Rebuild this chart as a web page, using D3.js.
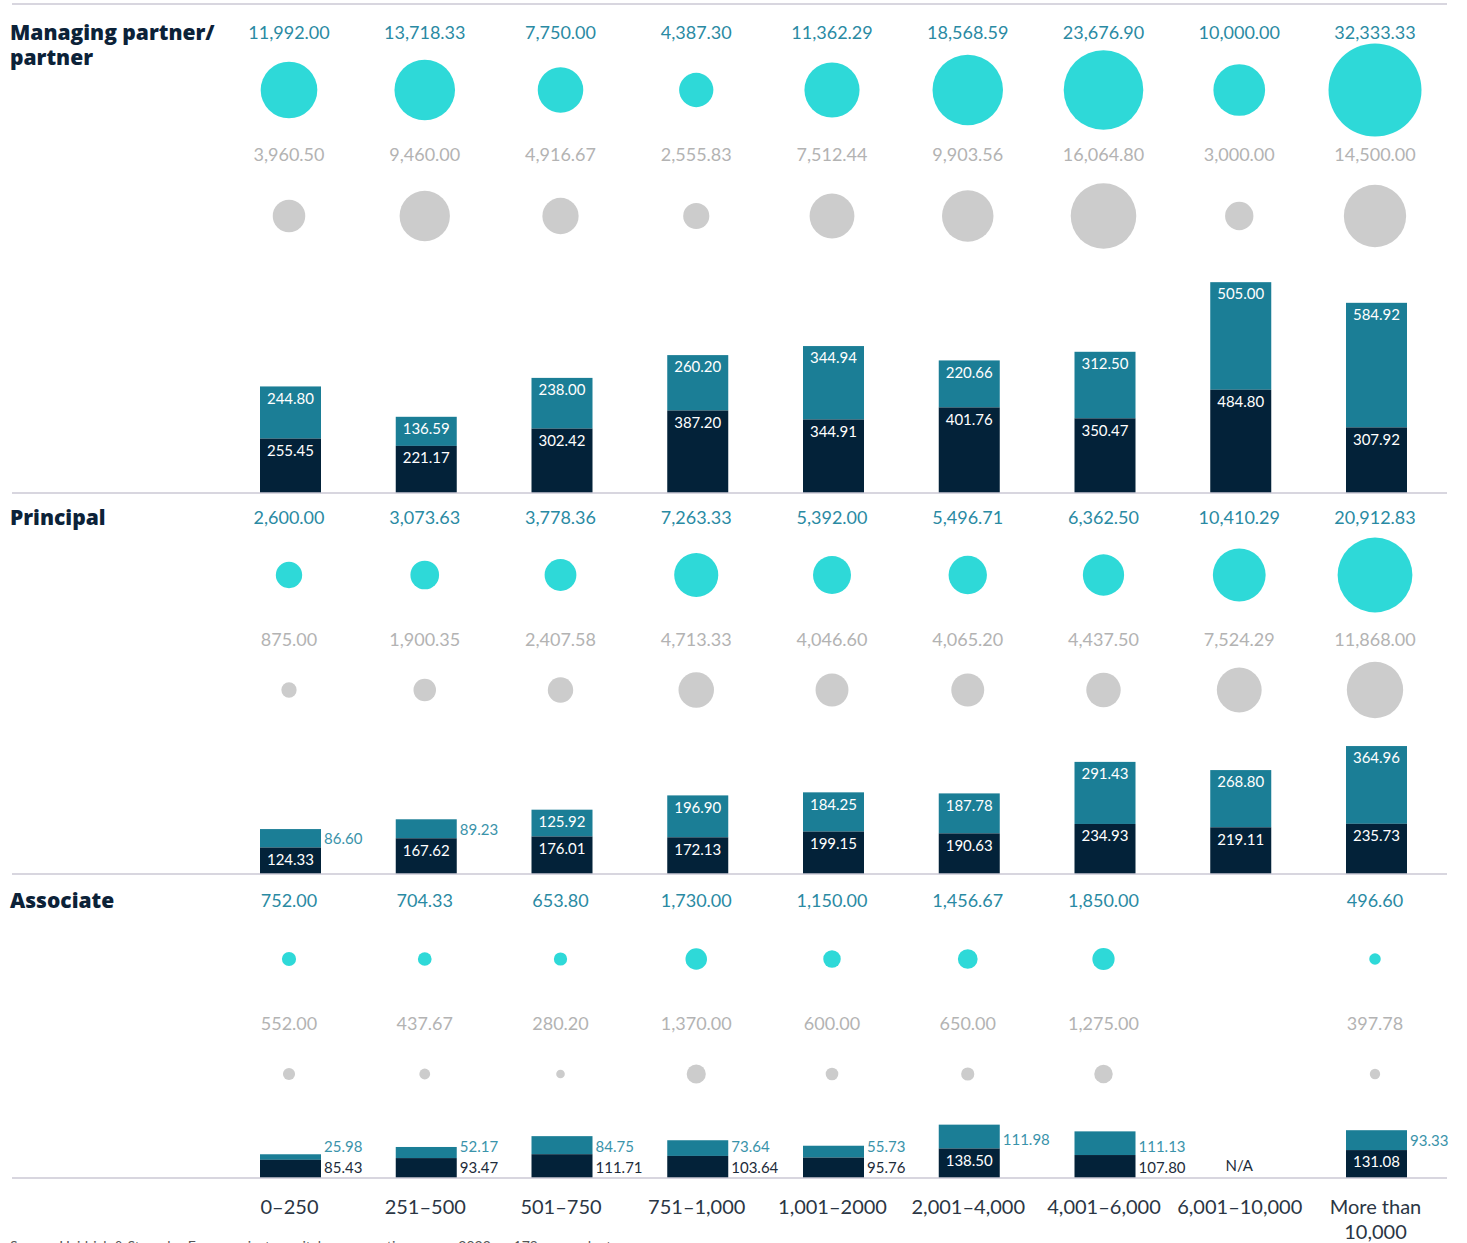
<!DOCTYPE html>
<html>
<head>
<meta charset="utf-8">
<script src="https://cdn.jsdelivr.net/npm/d3@7"></script>
<style>
  body { margin: 0; background: #fff; }
  svg { display: block; font-family: Lato, "Noto Sans", sans-serif; }
</style>
</head>
<body>
<div id="chart"></div>
<script>
// data
var categories = ["0–250", "251–500", "501–750", "751–1,000", "1,001–2000",
                  "2,001–4,000", "4,001–6,000", "6,001–10,000", "More than 10,000"];
var roles = ["Managing partner/partner", "Principal", "Associate"];

var mpTeal = [11992.00, 13718.33, 7750.00, 4387.30, 11362.29, 18568.59, 23676.90, 10000.00, 32333.33];
var mpGrey = [3960.50, 9460.00, 4916.67, 2555.83, 7512.44, 9903.56, 16064.80, 3000.00, 14500.00];
var mpBase = [255.45, 221.17, 302.42, 387.20, 344.91, 401.76, 350.47, 484.80, 307.92];
var mpTop  = [244.80, 136.59, 238.00, 260.20, 344.94, 220.66, 312.50, 505.00, 584.92];

var prTeal = [2600.00, 3073.63, 3778.36, 7263.33, 5392.00, 5496.71, 6362.50, 10410.29, 20912.83];
var prGrey = [875.00, 1900.35, 2407.58, 4713.33, 4046.60, 4065.20, 4437.50, 7524.29, 11868.00];
var prBase = [124.33, 167.62, 176.01, 172.13, 199.15, 190.63, 234.93, 219.11, 235.73];
var prTop  = [86.60, 89.23, 125.92, 196.90, 184.25, 187.78, 291.43, 268.80, 364.96];

var asTeal = [752.00, 704.33, 653.80, 1730.00, 1150.00, 1456.67, 1850.00, null, 496.60];
var asGrey = [552.00, 437.67, 280.20, 1370.00, 600.00, 650.00, 1275.00, null, 397.78];
var asBase = [85.43, 93.47, 111.71, 103.64, 95.76, 138.50, 107.80, null, 131.08];
var asTop  = [25.98, 52.17, 84.75, 73.64, 55.73, 111.98, 111.13, null, 93.33];

var sourceNote = "Source: Heidrick & Struggles Europe private capital compensation survey 2022, n=179 respondents";

// layout
var width = 1467, height = 1243;
var sections = [
    {title: ["Managing partner/", "partner"], teal: mpTeal, grey: mpGrey, base: mpBase, top: mpTop,
     line: 4, tealLabel: 33, tealCircle: 90, greyLabel: 155, greyCircle: 216, baseline: 493},
    {title: ["Principal"], teal: prTeal, grey: prGrey, base: prBase, top: prTop,
     line: 493, tealLabel: 518, tealCircle: 575, greyLabel: 640, greyCircle: 690, baseline: 874},
    {title: ["Associate"], teal: asTeal, grey: asGrey, base: asBase, top: asTop,
     line: 874, tealLabel: 901, tealCircle: 959, greyLabel: 1024, greyCircle: 1074, baseline: 1178}
];

var svg = d3.select("#chart")
    .append("svg")
    .attr("width", width)
    .attr("height", height);

var x = d3.scalePoint()
    .domain(categories)
    .range([289, 1375]);

// circle area scale, shared by all sections
var r = d3.scaleSqrt()
    .domain([0, 32333.33])
    .range([0, 46.5]);

// bar height scale (pixels per unit)
var h = d3.scaleLinear()
    .domain([0, 1000])
    .range([0, 213]);

var barW = 61;
var fmt = d3.format(",.2f");

var C = {
    line: "#cbc9d4",
    tealCircle: "#2ed9d8",
    greyCircle: "#cccccc",
    tealText: "#2a8aa3",
    greyText: "#b3b3b3",
    barTop: "#1b7e96",
    barBase: "#032239",
    title: "#0c2238",
    axis: "#2b3644"
};

sections.forEach(function (s, si) {
    // separator line
    svg.append("line")
        .attr("x1", 12).attr("x2", 1447)
        .attr("y1", s.line).attr("y2", s.line)
        .attr("stroke", C.line).attr("stroke-width", 1.5);

    // row title
    var t = svg.append("text")
        .attr("y", s.tealLabel)
        .attr("fill", C.title)
        .style("font-family", "'Open Sans', Lato, sans-serif")
        .style("font-size", "21px")
        .style("font-weight", 800);
    s.title.forEach(function (line, i) {
        t.append("tspan").attr("x", 10).attr("dy", i === 0 ? "0.35em" : "1.15em").text(line);
    });

    var idx = d3.range(categories.length).filter(function (i) { return s.teal[i] != null; });

    var g = svg.append("g");

    // teal values + circles
    g.selectAll(".tl").data(idx).join("text")
        .attr("x", function (i) { return x(categories[i]); })
        .attr("y", s.tealLabel)
        .attr("dy", "0.35em")
        .attr("text-anchor", "middle")
        .attr("fill", C.tealText)
        .style("font-size", "18px")
        .text(function (i) { return fmt(s.teal[i]); });

    g.selectAll(".tc").data(idx).join("circle")
        .attr("cx", function (i) { return x(categories[i]); })
        .attr("cy", s.tealCircle)
        .attr("r", function (i) { return r(s.teal[i]); })
        .attr("fill", C.tealCircle);

    // grey values + circles
    g.selectAll(".gl").data(idx).join("text")
        .attr("x", function (i) { return x(categories[i]); })
        .attr("y", s.greyLabel)
        .attr("dy", "0.35em")
        .attr("text-anchor", "middle")
        .attr("fill", C.greyText)
        .style("font-size", "18px")
        .text(function (i) { return fmt(s.grey[i]); });

    g.selectAll(".gc").data(idx).join("circle")
        .attr("cx", function (i) { return x(categories[i]); })
        .attr("cy", s.greyCircle)
        .attr("r", function (i) { return r(s.grey[i]); })
        .attr("fill", C.greyCircle);

    // stacked bars
    idx.forEach(function (i) {
        var cx = x(categories[i]) + 1.5;
        var x0 = cx - barW / 2;
        var hb = h(s.base[i]), ht = h(s.top[i]);
        var baseTop = s.baseline - hb;
        var topTop = baseTop - ht;

        g.append("rect")
            .attr("x", x0).attr("y", topTop)
            .attr("width", barW).attr("height", ht)
            .attr("fill", C.barTop);
        g.append("rect")
            .attr("x", x0).attr("y", baseTop)
            .attr("width", barW).attr("height", hb)
            .attr("fill", C.barBase);

        var baseIn = hb >= 25, topIn = ht >= 25;
        var baseY = baseIn ? baseTop + 12 : s.baseline - 10;
        var topY = topIn ? topTop + 12 : baseY - 21;

        g.append("text")
            .attr("x", baseIn ? cx : x0 + barW + 3)
            .attr("y", baseY)
            .attr("dy", "0.35em")
            .attr("text-anchor", baseIn ? "middle" : "start")
            .attr("fill", baseIn ? "#ffffff" : "#1d2c3a")
            .style("font-size", "15px")
            .text(fmt(s.base[i]));

        g.append("text")
            .attr("x", topIn ? cx : x0 + barW + 3)
            .attr("y", topY)
            .attr("dy", "0.35em")
            .attr("text-anchor", topIn ? "middle" : "start")
            .attr("fill", topIn ? "#ffffff" : "#3a93aa")
            .style("font-size", "15px")
            .text(fmt(s.top[i]));
    });

    // missing value
    d3.range(categories.length).filter(function (i) { return s.teal[i] == null; }).forEach(function (i) {
        g.append("text")
            .attr("x", x(categories[i]))
            .attr("y", s.baseline - 12)
            .attr("dy", "0.35em")
            .attr("text-anchor", "middle")
            .attr("fill", "#1d2c3a")
            .style("font-size", "15px")
            .text("N/A");
    });
});

// bottom line
svg.append("line")
    .attr("x1", 12).attr("x2", 1447)
    .attr("y1", 1178).attr("y2", 1178)
    .attr("stroke", C.line).attr("stroke-width", 1.5);

// x axis
var xAxis = svg.append("g")
    .attr("transform", "translate(0,1200)")
    .call(d3.axisBottom(x).tickSize(0).tickPadding(0));

xAxis.select(".domain").remove();
xAxis.selectAll("text")
    .attr("fill", C.axis)
    .style("font-family", "Lato, sans-serif")
    .style("font-size", "20px")
    .attr("dy", "0.71em")
    .each(function (d) {
        if (d === "More than 10,000") {
            var el = d3.select(this).text(null);
            el.append("tspan").attr("x", 0).attr("dy", "0.71em").text("More than");
            el.append("tspan").attr("x", 0).attr("dy", "1.25em").text("10,000");
        }
    });

// source note (cut off by the page edge, as in the original)
svg.append("text")
    .attr("x", 10)
    .attr("y", 1251)
    .attr("fill", "#555")
    .style("font-size", "14px")
    .text(sourceNote);
</script>
</body>
</html>
